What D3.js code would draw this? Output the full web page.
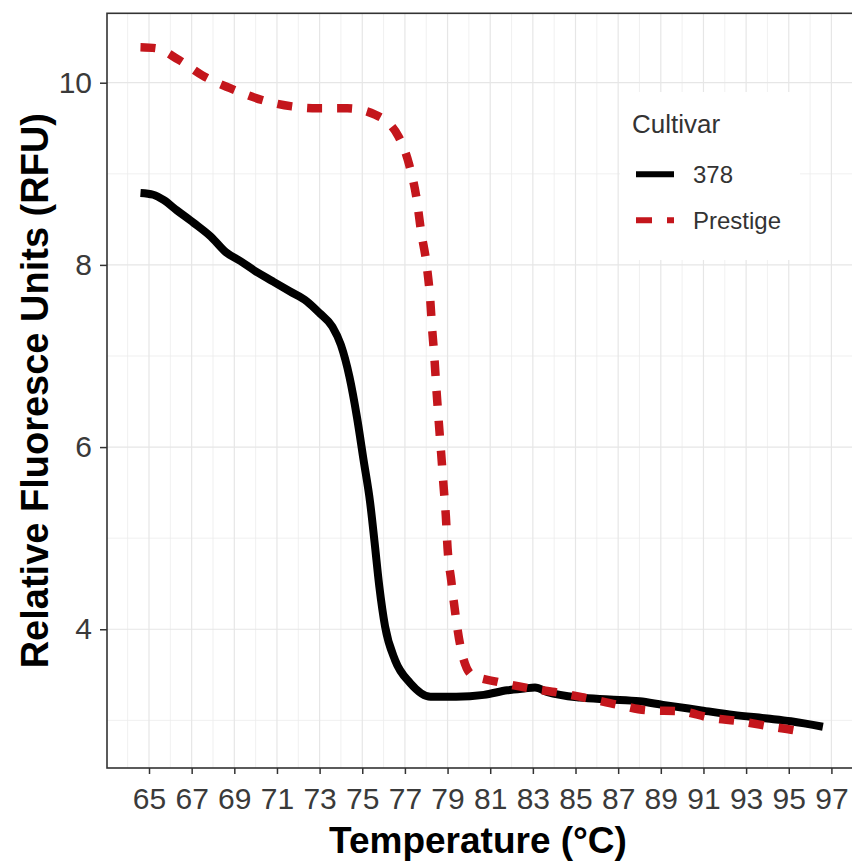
<!DOCTYPE html>
<html>
<head>
<meta charset="utf-8">
<script src="https://cdn.jsdelivr.net/npm/d3@7/dist/d3.min.js"></script>
<style>
  html, body { margin: 0; padding: 0; background: #fff; }
  svg { display: block; font-family: "Liberation Sans", Arial, sans-serif; }
</style>
</head>
<body>
<svg id="chart" width="852" height="865"></svg>
<script>
// Melt curves: temperature (°C) vs relative fluorescence (RFU)
const temp378 = [64.6, 65.2, 65.7, 66.3, 67.1, 67.9, 68.6, 69.3, 70.0, 70.8, 71.6, 72.4, 73.0, 73.6, 74.0,
  74.4, 74.75, 75.06, 75.37, 75.58, 75.8, 76.07, 76.54, 77.25, 78.2, 79.4, 80.7, 81.8, 82.6, 83.1,
  83.7, 85.2, 86.6, 88.0, 89.1, 90.9, 92.4, 94.0, 95.1, 96.6];
const rfu378 = [8.79, 8.77, 8.71, 8.60, 8.46, 8.31, 8.14, 8.04, 7.93, 7.82, 7.71, 7.60, 7.47, 7.32, 7.12,
  6.77, 6.33, 5.86, 5.39, 4.95, 4.47, 4.03, 3.66, 3.41, 3.26, 3.26, 3.28, 3.33, 3.35, 3.36,
  3.31, 3.25, 3.23, 3.21, 3.17, 3.11, 3.06, 3.02, 2.99, 2.93];

const tempPrestige = [64.6, 65.3, 66.4, 67.5, 68.8, 70.3, 71.7, 72.9, 74.3, 75.6, 76.7, 77.2, 77.56, 77.75,
  78.03, 78.19, 78.27, 78.38, 78.47, 78.58, 78.70, 78.81, 78.92, 79.0, 79.17, 79.36, 79.59, 80.14,
  81.4, 82.9, 84.3, 85.6, 87.0, 88.4, 89.9, 91.3, 92.7, 94.2, 95.5, 95.9];
const rfuPrestige = [10.39, 10.38, 10.25, 10.08, 9.94, 9.81, 9.74, 9.72, 9.72, 9.65, 9.41, 9.10, 8.71, 8.38,
  7.98, 7.61, 7.32, 6.99, 6.66, 6.30, 5.93, 5.58, 5.24, 4.89, 4.54, 4.18, 3.83, 3.50,
  3.42, 3.35, 3.30, 3.24, 3.17, 3.11, 3.10, 3.03, 2.99, 2.93, 2.88, 2.86];

const cultivars = ["378", "Prestige"];
const xTicks = [65, 67, 69, 71, 73, 75, 77, 79, 81, 83, 85, 87, 89, 91, 93, 95, 97];
const yTicks = [4, 6, 8, 10];
const xMinor = d3.range(64, 99, 2);
const yMinor = [3, 5, 7, 9];
const xLimits = [63.03, 98.2];
const yLimits = [2.477, 10.762];
const xTitle = "Temperature (°C)";
const yTitle = "Relative Fluoresce Units (RFU)";
const legendTitle = "Cultivar";

const series = [
  { name: cultivars[0], pts: temp378.map((t, i) => [t, rfu378[i]]) },
  { name: cultivars[1], pts: tempPrestige.map((t, i) => [t, rfuPrestige[i]]) }
];

const panel = { left: 107, right: 857, top: 13.3, bottom: 768 };
const svg = d3.select("#chart");

const x = d3.scaleLinear().domain(xLimits).range([panel.left, panel.right]);
const y = d3.scaleLinear().domain(yLimits).range([panel.bottom, panel.top]);

const colour = d3.scaleOrdinal().domain(cultivars).range(["#000000", "#c4161c"]);
const dash = d3.scaleOrdinal().domain(cultivars).range(["none", "15,15"]);
const width = d3.scaleOrdinal().domain(cultivars).range([8, 8.5]);

svg.append("defs").append("clipPath").attr("id", "panel-clip")
  .append("rect")
  .attr("x", panel.left).attr("y", panel.top)
  .attr("width", panel.right - panel.left).attr("height", panel.bottom - panel.top);

const plot = svg.append("g").attr("clip-path", "url(#panel-clip)");

// background grid: minor then major
plot.append("g").selectAll("line").data(xMinor).join("line")
  .attr("x1", d => x(d)).attr("x2", d => x(d))
  .attr("y1", panel.top).attr("y2", panel.bottom)
  .attr("stroke", "#ececec").attr("stroke-width", 0.8);
plot.append("g").selectAll("line").data(yMinor).join("line")
  .attr("y1", d => y(d)).attr("y2", d => y(d))
  .attr("x1", panel.left).attr("x2", panel.right)
  .attr("stroke", "#ececec").attr("stroke-width", 0.8);
plot.append("g").selectAll("line").data(xTicks).join("line")
  .attr("x1", d => x(d)).attr("x2", d => x(d))
  .attr("y1", panel.top).attr("y2", panel.bottom)
  .attr("stroke", "#e6e6e6").attr("stroke-width", 1.2);
plot.append("g").selectAll("line").data(yTicks).join("line")
  .attr("y1", d => y(d)).attr("y2", d => y(d))
  .attr("x1", panel.left).attr("x2", panel.right)
  .attr("stroke", "#e6e6e6").attr("stroke-width", 1.2);

// melt curves
const line = d3.line().x(d => x(d[0])).y(d => y(d[1])).curve(d3.curveMonotoneX);
plot.append("g").selectAll("path").data(series).join("path")
  .attr("d", d => line(d.pts))
  .attr("fill", "none")
  .attr("stroke", d => colour(d.name))
  .attr("stroke-width", d => width(d.name))
  .attr("stroke-dasharray", d => dash(d.name))
  .attr("stroke-linejoin", "round");

// legend inside the panel
const lg = svg.append("g");
lg.append("rect").attr("x", 620).attr("y", 92).attr("width", 180).attr("height", 168).attr("fill", "#fff");
lg.append("text").attr("x", 632).attr("y", 133).attr("font-size", 26).attr("fill", "#333").text(legendTitle);
const item = lg.selectAll("g.item").data(cultivars).join("g").attr("class", "item")
  .attr("transform", (d, i) => `translate(0, ${174.3 + i * 46})`);
item.append("line").attr("x1", 636).attr("x2", 674).attr("y1", 0).attr("y2", 0)
  .attr("stroke", d => colour(d)).attr("stroke-width", 6)
  .attr("stroke-dasharray", d => dash(d) === "none" ? null : "16,15");
item.append("text").attr("x", 693).attr("y", 0).attr("dy", "0.36em")
  .attr("font-size", 24).attr("fill", "#333").text(d => d);

// panel border
svg.append("rect")
  .attr("x", panel.left).attr("y", panel.top)
  .attr("width", panel.right - panel.left).attr("height", panel.bottom - panel.top)
  .attr("fill", "none").attr("stroke", "#333").attr("stroke-width", 1.6);

// axes
const xAxis = svg.append("g").attr("transform", `translate(0,${panel.bottom})`)
  .call(d3.axisBottom(x).tickValues(xTicks).tickSize(6).tickPadding(14).tickFormat(d3.format("d")));
const yAxis = svg.append("g").attr("transform", `translate(${panel.left},0)`)
  .call(d3.axisLeft(y).tickValues(yTicks).tickSize(7).tickPadding(8).tickFormat(d3.format("d")));
[xAxis, yAxis].forEach(a => {
  a.select(".domain").remove();
  a.selectAll(".tick line").attr("stroke", "#333").attr("stroke-width", 1.5);
  a.selectAll(".tick text").attr("font-size", 30).attr("fill", "#3a3a3a")
    .attr("font-family", "Liberation Sans, Arial, sans-serif");
});

// axis titles
svg.append("text").attr("x", 478).attr("y", 853).attr("text-anchor", "middle")
  .attr("font-size", 37).attr("font-weight", "bold").attr("fill", "#000").text(xTitle);
svg.append("text").attr("transform", `translate(48, ${(panel.top + panel.bottom) / 2}) rotate(-90)`)
  .attr("text-anchor", "middle")
  .attr("font-size", 38).attr("font-weight", "bold").attr("fill", "#000").text(yTitle);
</script>
</body>
</html>
